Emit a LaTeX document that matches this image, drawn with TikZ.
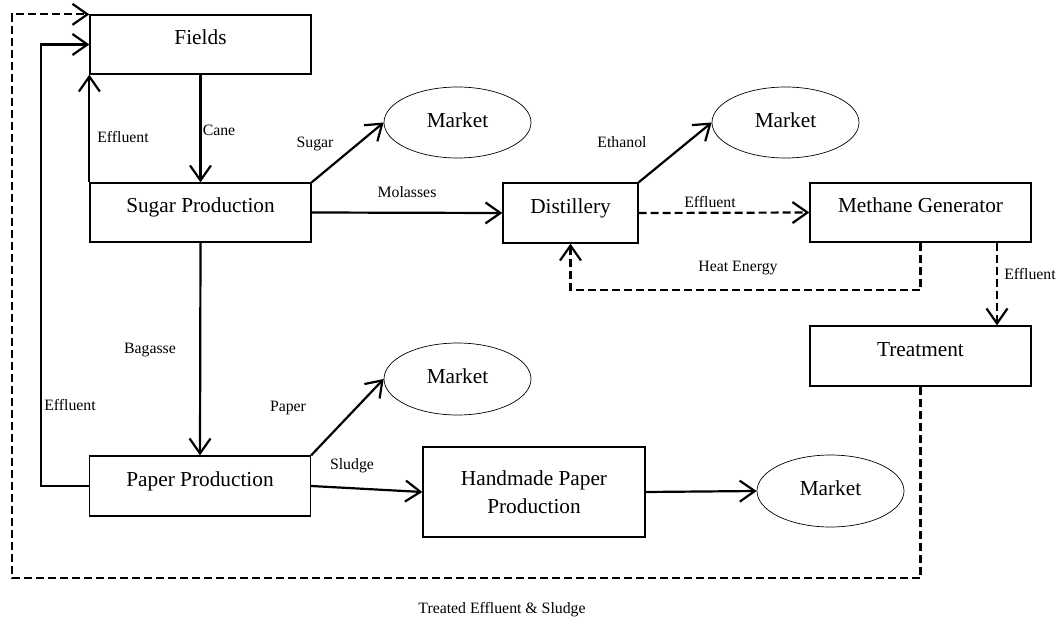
\documentclass[tikz,border=0pt]{standalone}
\usepackage{fontspec}
\setmainfont{Liberation Serif}
\usetikzlibrary{shapes.geometric,arrows.meta}
\tikzset{
  box/.style={draw, line width=1.3pt, rectangle, inner sep=0pt, minimum width=221pt, minimum height=59pt,
    font=\fontsize{21.3}{25}\selectfont, text height=14pt, text depth=14pt},
  mkt/.style={draw, line width=0.7pt, ellipse, inner sep=0pt, minimum width=147pt, minimum height=71pt,
    font=\fontsize{21.3}{25}\selectfont, text height=14pt, text depth=5pt},
  lbl/.style={inner sep=0pt, font=\fontsize{15.8}{19}\selectfont},
  flow/.style={line width=2.2pt, -{Straight Barb[length=15pt,width=21pt,line width=2.2pt]}},
  dflow/.style={flow, dash pattern=on 8pt off 4pt}
}
\begin{document}
\begin{tikzpicture}[x=1pt,y=-1pt]
\path[fill=white, use as bounding box] (0,0) rectangle (1058,618);

% boxes
\node[box] (fields) at (200.5,44.5) {Fields};
\node[box] (sugar) at (200.5,212.5) {Sugar Production};
\node[box, minimum height=60pt] (paper) at (200,486) {Paper Production};
\node[box, minimum width=135pt, minimum height=60pt] (dist) at (570.5,213) {Distillery};
\node[box] (meth) at (920.5,212.5) {Methane Generator};
\node[box, minimum height=60pt] (treat) at (920.5,356) {Treatment};
\node[draw, line width=1.3pt, rectangle, inner sep=0pt, minimum width=222pt, minimum height=90pt,
  align=center, font=\fontsize{21.3}{28}\selectfont] (hand) at (534,492) {Handmade Paper\\Production};

% markets
\node[mkt] (m1) at (457.5,122.5) {Market};
\node[mkt] (m2) at (785.5,122.5) {Market};
\node[mkt, minimum height=72pt] (m3) at (457.5,379) {Market};
\node[mkt, minimum height=72pt] (m4) at (830.5,491) {Market};

% helper coordinates
\coordinate (effL) at (41,300);
\coordinate (heat) at (570.5,290);
\coordinate (loopR) at (920.5,578);
\coordinate (loopL) at (12,578);

% connectors
\draw[flow] (fields.south) -- (sugar.north);
\draw[flow] (sugar.north west) -- (fields.south west);
\draw[flow] (paper.west) -| (effL) |- (fields.west);
\draw[flow] (sugar.north east) -- (m1.west);
\draw[flow] (sugar.east) -- (dist.west);
\draw[flow] (dist.north east) -- (m2.west);
\draw[dflow] (dist.east) -- (meth.west);
\draw[dflow] (meth.south) |- (heat) -- (dist.south);
\draw[dflow] ([xshift=76.5pt]meth.south) -- ([xshift=76.5pt]treat.north);
\draw[dflow] (treat.south) -- (loopR) -- (loopL) |- (fields.north west);
\draw[flow] (sugar.south) -- (paper.north);
\draw[flow] (paper.north east) -- (m3.west);
\draw[flow] (paper.east) -- (hand.west);
\draw[flow] (hand.east) -- (m4.west);

% labels
\node[lbl] (lEff1) at (123,137) {Effluent};
\node[lbl] (lCane) at (219,130) {Cane};
\node[lbl] (lSugar) at (315,144) {Sugar};
\node[lbl] (lMol) at (407,192) {Molasses};
\node[lbl] (lEth) at (622,142) {Ethanol};
\node[lbl] (lEff2) at (710,202) {Effluent};
\node[lbl] (lHeat) at (738,268) {Heat Energy};
\node[lbl] (lEff3) at (1030,274) {Effluent};
\node[lbl] (lBag) at (150,350) {Bagasse};
\node[lbl] (lEff4) at (70,405) {Effluent};
\node[lbl] (lPaper) at (288,408) {Paper};
\node[lbl] (lSludge) at (352,466) {Sludge};
\node[lbl] (lTreated) at (502,610) {Treated Effluent \& Sludge};
\end{tikzpicture}
\end{document}
